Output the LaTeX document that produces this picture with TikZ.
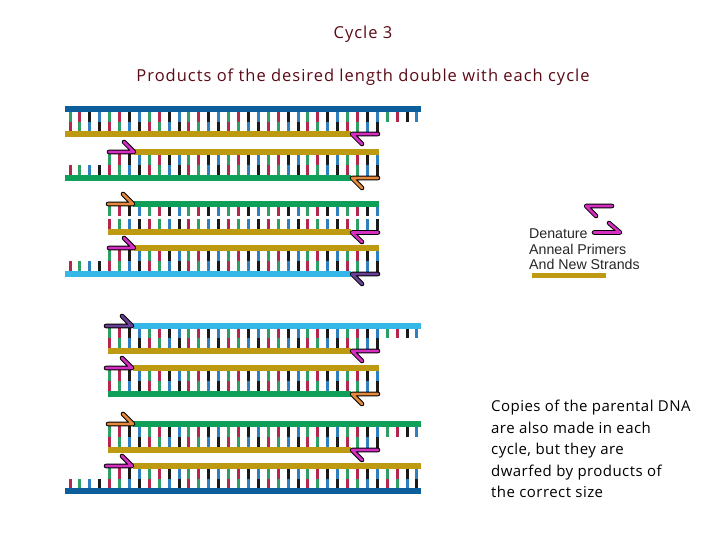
\documentclass[tikz,border=0pt]{standalone}
\usepackage{fontspec}
\setmainfont{Open Sans}
\newfontfamily\legendfont{Liberation Sans}
\usepackage{xcolor}
\usepackage{tikz}
\usetikzlibrary{positioning}
\definecolor{dnablue}{HTML}{0F5E9C}
\definecolor{dnagold}{HTML}{BE9A12}
\definecolor{dnagreen}{HTML}{0E9F58}
\definecolor{dnacyan}{HTML}{35B8E8}
\definecolor{basered}{HTML}{B5264C}
\definecolor{basegreen}{HTML}{2E9E62}
\definecolor{baseblue}{HTML}{2F7FBF}
\definecolor{baseblack}{HTML}{1A1A1A}
\definecolor{primermagenta}{HTML}{D42FC0}
\definecolor{primerorange}{HTML}{E58A3C}
\definecolor{primerpurple}{HTML}{6A3F96}
\definecolor{titlemaroon}{HTML}{5A0A14}
\tikzstyle{strand} = [line width=5.2pt]
\tikzstyle{base} = [line width=3pt]
\tikzstyle{title} = [inner sep=0pt, text=titlemaroon, font=\fontsize{16.5}{20}\selectfont\addfontfeature{LetterSpace=6}]
\tikzstyle{note} = [inner sep=0pt, align=left, font=\fontsize{15}{21.5}\selectfont\addfontfeature{LetterSpace=3}]
\tikzstyle{legend} = [inner sep=0pt, anchor=west, font=\legendfont\fontsize{14.2}{16}\selectfont, text=black!85]
% base pair k: upper half, lower half
\newcommand{\basecolor}[2]{%
  \pgfmathtruncatemacro{\basephase}{mod(#1,4)}%
  \ifcase\basephase\def#2{basegreen}\or\def#2{basered}\or\def#2{baseblack}\or\def#2{baseblue}\fi}
\newcommand{\pairedcolor}[2]{%
  \pgfmathtruncatemacro{\basephase}{mod(#1,4)}%
  \ifcase\basephase\def#2{basered}\or\def#2{basegreen}\or\def#2{baseblue}\or\def#2{baseblack}\fi}
% upper rungs: #1 first k, #2 last k, #3 from y, #4 to y
\newcommand{\upperbases}[4]{%
  \foreach \k in {#1,...,#2} {
    \basecolor{\k}{\rungcolor}
    \draw [base, \rungcolor] ({70+9.914*\k},#3) -- ({70+9.914*\k},#4);
  }}
\newcommand{\lowerbases}[4]{%
  \foreach \k in {#1,...,#2} {
    \pairedcolor{\k}{\rungcolor}
    \draw [base, \rungcolor] ({70+9.914*\k},#3) -- ({70+9.914*\k},#4);
  }}
% primers: #1 colour, #2 blunt x, #3 tip x, #4 barb x, #5 y, #6 barb y
\newcommand{\primer}[6]{%
  \draw [black, line width=4.6pt, line cap=round, line join=round] (#2,#5) -- (#3,#5) -- (#4,#6);
  \draw [#1, line width=2.6pt, line cap=round, line join=round] (#2,#5) -- (#3,#5) -- (#4,#6);}
\begin{document}
\begin{tikzpicture}[x=1pt,y=-1pt]
    \useasboundingbox (0,0) rectangle (720,540);
    % Place text
    \node [title] (cycle) at (363,34.5) {Cycle 3};
    \node [title] (products) at (363,77) {Products of the desired length double with each cycle};
    \node [note, anchor=north west] (copies) at (491,400) {Copies of the parental DNA\\are also made in each\\cycle, but they are\\dwarfed by products of\\the correct size};
    % Duplex 1
    \upperbases{0}{35}{111}{122}
    \lowerbases{0}{31}{122}{132}
    \draw [strand, dnablue] (65,109) -- (421,109);
    \draw [strand, dnagold] (65,134) -- (351,134);
    \primer{primermagenta}{378}{352}{362}{134}{144}
    % Duplex 2
    \upperbases{4}{31}{154}{165}
    \lowerbases{0}{31}{165}{176}
    \draw [strand, dnagold] (134,152) -- (379,152);
    \draw [strand, dnagreen] (65,178) -- (351,178);
    \primer{primermagenta}{109}{134}{124}{152}{142}
    \primer{primerorange}{378}{352}{362}{178}{188}
    % Duplex 3
    \upperbases{4}{31}{206}{216.5}
    \lowerbases{4}{31}{219.5}{230}
    \draw [strand, dnagreen] (133,204) -- (379,204);
    \draw [strand, dnagold] (108,232) -- (351,232);
    \primer{primerorange}{108}{133}{123}{204}{194}
    \primer{primermagenta}{378}{352}{362}{232.5}{242}
    % Duplex 4
    \upperbases{4}{31}{250}{261}
    \lowerbases{0}{31}{261}{272}
    \draw [strand, dnagold] (134,248) -- (379,248);
    \draw [strand, dnacyan] (65,274) -- (351,274);
    \primer{primermagenta}{109}{134}{124}{248}{238}
    \primer{primerpurple}{378}{352}{362}{274}{284}
    % Duplex 5
    \upperbases{4}{35}{328}{338}
    \lowerbases{4}{31}{338}{349}
    \draw [strand, dnacyan] (133,326) -- (421,326);
    \draw [strand, dnagold] (108,351) -- (351,351);
    \primer{primerpurple}{106}{132}{122}{326}{316}
    \primer{primermagenta}{378}{352}{362}{351}{361}
    % Duplex 6
    \upperbases{4}{31}{370}{381}
    \lowerbases{4}{31}{381}{392}
    \draw [strand, dnagold] (133,368) -- (379,368);
    \draw [strand, dnagreen] (108,394) -- (351,394);
    \primer{primermagenta}{106}{132}{122}{368}{358}
    \primer{primerorange}{378}{352}{362}{394}{404}
    % Duplex 7
    \upperbases{4}{35}{426}{437}
    \lowerbases{4}{31}{437}{448}
    \draw [strand, dnagreen] (133,424) -- (421,424);
    \draw [strand, dnagold] (108,450) -- (351,450);
    \primer{primerorange}{108}{133}{123}{424}{414}
    \primer{primermagenta}{378}{352}{362}{450}{460}
    % Duplex 8
    \upperbases{4}{35}{468}{479}
    \lowerbases{0}{35}{479}{490}
    \draw [strand, dnagold] (133,466) -- (421,466);
    \draw [strand, dnablue] (65,491) -- (421,491);
    \primer{primermagenta}{106}{132}{122}{466}{456}
    % Legend
    \primer{primermagenta}{612}{586}{596}{206}{216}
    \primer{primermagenta}{594}{620}{609}{232.5}{223}
    \node [legend] (denature) at (529,234) {Denature};
    \node [legend] (anneal) at (529,249) {Anneal Primers};
    \node [legend] (newstrands) at (529,264) {And New Strands};
    \draw [strand, dnagold] (532,275.5) -- (606,275.5);
\end{tikzpicture}
\end{document}
